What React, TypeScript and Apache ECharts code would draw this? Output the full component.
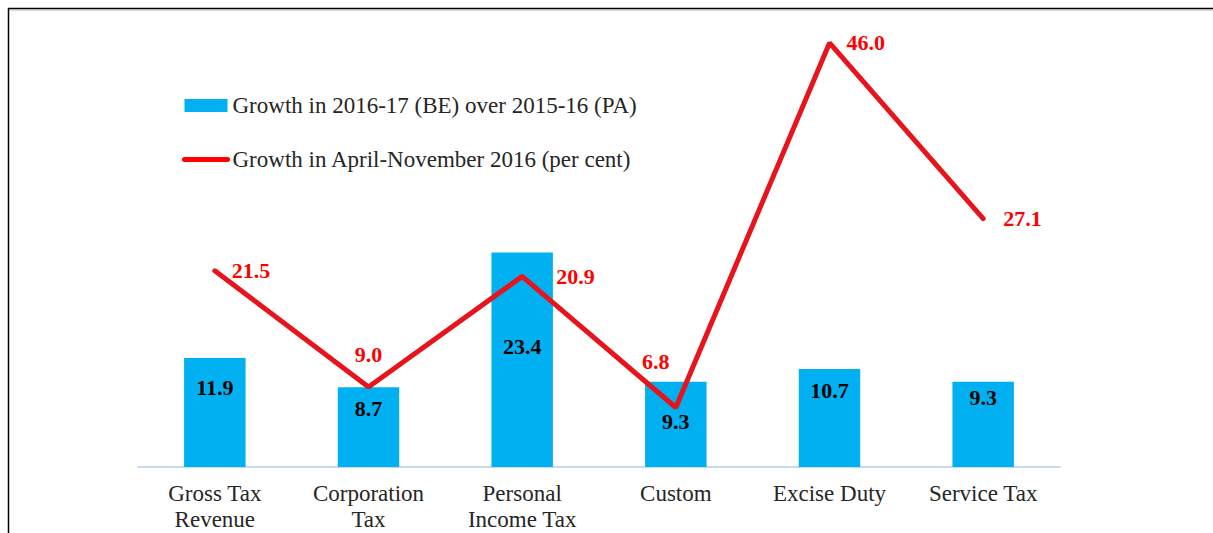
import React, { useEffect, useRef } from "react";
import * as echarts from "echarts";

const categories = [
  "Gross Tax\nRevenue",
  "Corporation\nTax",
  "Personal\nIncome Tax",
  "Custom",
  "Excise Duty",
  "Service Tax",
];
const growthBE = [11.9, 8.7, 23.4, 9.3, 10.7, 9.3];
const growthAprNov = [21.5, 9.0, 20.9, 6.8, 46.0, 27.1];
const seriesNames = [
  "Growth in 2016-17 (BE) over 2015-16 (PA)",
  "Growth in April-November 2016 (per cent)",
];

const FONT = "'Liberation Serif', 'Times New Roman', serif";

export default function App() {
  const ref = useRef<HTMLDivElement>(null);
  useEffect(() => {
    if (!ref.current) return;
    const chart = echarts.init(ref.current, undefined, { renderer: "svg" });

    const barLabelDist = [19, 10, 83, 29, 11, 5];
    const lineLabels: any[] = [
      { position: "right", distance: 16 },
      { position: "top", distance: 21 },
      { position: "right", distance: 33 },
      { position: "top", distance: 34, offset: [-20, 0] },
      { position: "right", distance: 16 },
      { position: "right", distance: 19 },
    ];

    chart.setOption({
      animation: false,
      backgroundColor: "#ffffff",
      textStyle: { fontFamily: FONT },
      grid: { left: 138, right: 153, top: 29, bottom: 66, containLabel: false },
      legend: {
        orient: "vertical",
        left: 177,
        top: 89,
        itemGap: 31,
        itemWidth: 43,
        itemHeight: 13,
        textStyle: {
          fontFamily: FONT,
          fontSize: 23,
          lineHeight: 22,
          color: "#262626",
        },
        data: [
          { name: seriesNames[0], icon: "rect" },
          {
            name: seriesNames[1],
            itemStyle: { opacity: 0 },
            lineStyle: { width: 5, cap: "round", color: "#ff0000" },
          },
        ],
      },
      xAxis: {
        type: "category",
        data: categories,
        axisLine: { show: true, lineStyle: { color: "#c5dcf0", width: 2 } },
        axisTick: { show: false },
        axisLabel: {
          fontFamily: FONT,
          fontSize: 23,
          lineHeight: 26,
          color: "#262626",
          margin: 13,
          interval: 0,
        },
      },
      yAxis: [
        { type: "value", min: 0, max: 47.8, show: false, splitLine: { show: false } },
        { type: "value", min: 0.4, max: 47.5, show: false, splitLine: { show: false } },
      ],
      series: [
        {
          name: seriesNames[0],
          type: "bar",
          yAxisIndex: 0,
          barWidth: "40%",
          itemStyle: { color: "#00b0f0" },
          data: growthBE.map((v, i) => ({
            value: v,
            label: {
              show: true,
              position: "insideTop",
              distance: barLabelDist[i],
              fontFamily: FONT,
              fontWeight: "bold",
              fontSize: 22,
              color: "#000000",
              formatter: (p: any) => Number(p.value).toFixed(1),
            },
          })),
          z: 1,
        },
        {
          name: seriesNames[1],
          type: "line",
          yAxisIndex: 1,
          symbol: "circle",
          symbolSize: 2,
          showSymbol: true,
          itemStyle: { color: "#e8141c" },
          lineStyle: { color: "#e8141c", width: 5, cap: "round" },
          data: growthAprNov.map((v, i) => ({
            value: v,
            label: {
              show: true,
              ...lineLabels[i],
              fontFamily: FONT,
              fontWeight: "bold",
              fontSize: 22,
              color: "#ff0000",
              formatter: (p: any) => Number(p.value).toFixed(1),
            },
          })),
          z: 3,
        },
      ],
      graphic: [
        {
          type: "line",
          shape: { x1: 8, y1: 8.5, x2: 1213, y2: 8.5 },
          style: { stroke: "#000000", lineWidth: 1.5 },
          silent: true,
        },
        {
          type: "line",
          shape: { x1: 9, y1: 10, x2: 1213, y2: 10 },
          style: { stroke: "#b0b0b0", lineWidth: 1 },
          silent: true,
        },
        {
          type: "line",
          shape: { x1: 8.5, y1: 8, x2: 8.5, y2: 533 },
          style: { stroke: "#000000", lineWidth: 1.5 },
          silent: true,
        },
      ],
    });
    return () => chart.dispose();
  }, []);

  return (
    <div
      ref={ref}
      style={{ position: "fixed", left: 0, top: 0, width: 1213, height: 533 }}
    />
  );
}
